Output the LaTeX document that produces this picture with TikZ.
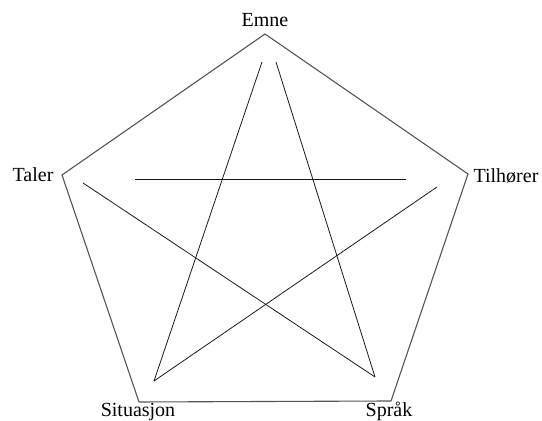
\documentclass[tikz,border=0pt]{standalone}
\usepackage{fontspec}
\setmainfont{Liberation Serif}
\usetikzlibrary{positioning}
\definecolor{cFrame}{HTML}{555555}
\definecolor{cStar}{HTML}{1A1A1A}
\tikzset{
  frame/.style = {cFrame, line width=0.55pt, line join=miter},
  star/.style  = {cStar, line width=0.4pt},
  lbl/.style   = {inner sep=0pt, anchor=base, font=\fontsize{10}{12}\selectfont},
}
\begin{document}
\begin{tikzpicture}[x=0.5pt, y=-0.5pt]
  \useasboundingbox (0,0) rectangle (542,421);
  % corners of the pentagon
  \coordinate (emne) at (265,34);
  \coordinate (tilh) at (468,174);
  \coordinate (sprak) at (391,401);
  \coordinate (sit) at (139,402);
  \coordinate (taler) at (62,175);
  \draw[frame] (emne) -- (tilh) -- (sprak) -- (sit) -- (taler) -- cycle;
  % labels
  \node[lbl] (lEmne) at (265,27) {Emne};
  \node[lbl] (lTaler) at (33,182) {Taler};
  \node[lbl] (lTilh) at (506,183) {Tilhører};
  \node[lbl] (lSit) at (138,417) {Situasjon};
  \node[lbl] (lSprak) at (389,417) {Språk};
  % inner star
  \coordinate (sA) at (262,62);
  \coordinate (sB) at (276,62);
  \coordinate (sL) at (135,179);
  \coordinate (sR) at (406,179);
  \coordinate (sTl) at (83,183);
  \coordinate (sTr) at (437,187);
  \coordinate (sSit) at (154,381);
  \coordinate (sSpr) at (375,377);
  \draw[star] (sA) -- (sSit);
  \draw[star] (sB) -- (sSpr);
  \draw[star] (sL) -- (sR);
  \draw[star] (sTl) -- (sSpr);
  \draw[star] (sTr) -- (sSit);
\end{tikzpicture}
\end{document}
